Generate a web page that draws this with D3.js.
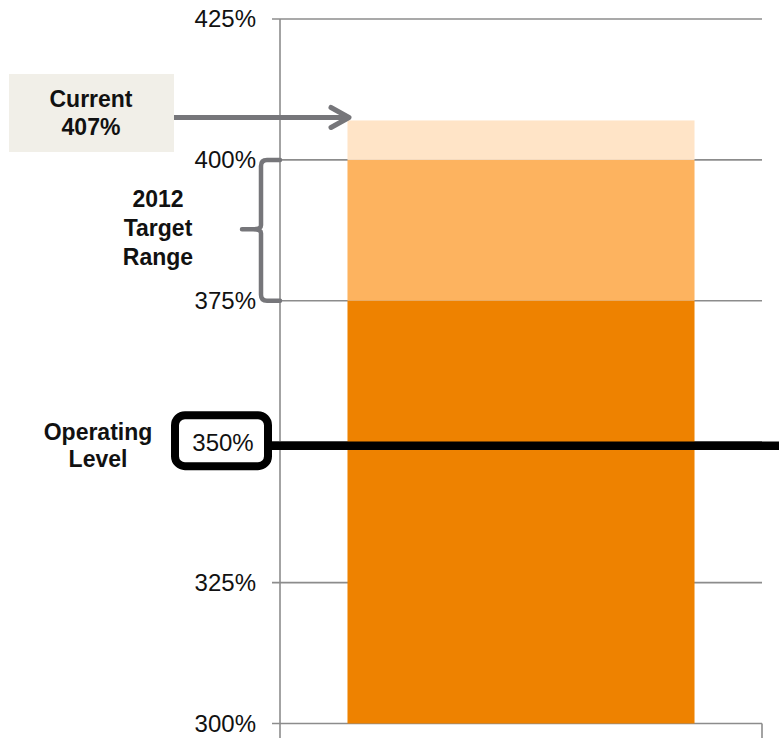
<!DOCTYPE html>
<html>
<head>
<meta charset="utf-8">
<script src="https://cdn.jsdelivr.net/npm/d3@7"></script>
<style>
  html, body { margin: 0; padding: 0; background: #fff; }
  svg { display: block; font-family: "Liberation Sans", Arial, sans-serif; }
</style>
</head>
<body>
<svg id="chart" width="779" height="738"></svg>
<script>
// Capital ratio stack: base, 2012 target range, current surplus
const categories = ["Capital"];
const segmentStarts = [300, 375, 400];
const segmentEnds = [375, 400, 407];
const segmentColors = ["#EE8200", "#FDB35F", "#FFE4C7"];
const tickValues = [300, 325, 350, 375, 400, 425];
const currentValue = 407;
const targetRange = [375, 400];
const operatingLevel = 350;

const svg = d3.select("#chart");
const plot = { left: 280, right: 762, top: 19, bottom: 723.5 };

const y = d3.scaleLinear().domain([300, 425]).range([plot.bottom, plot.top]);
const x = d3.scaleBand().domain(categories).range([plot.left, plot.right]).paddingInner(0.28).paddingOuter(0.14);

// Gridlines
svg.append("g").selectAll("line").data(tickValues).join("line")
  .attr("x1", plot.left - 8).attr("x2", plot.right)
  .attr("y1", d => y(d)).attr("y2", d => y(d))
  .attr("stroke", "#8c8c8c").attr("stroke-width", 1.6);

// Y axis labels; the operating level value is shown in its own box instead
const yAxis = d3.axisLeft(y)
  .tickValues(tickValues.filter(v => v !== operatingLevel))
  .tickFormat(d => d + "%").tickSize(0).tickPadding(24);
const ag = svg.append("g").attr("transform", `translate(${plot.left},0)`).call(yAxis);
ag.select(".domain").remove();
ag.selectAll("text").attr("font-size", 24).attr("fill", "#111").attr("font-family", "Liberation Sans, Arial, sans-serif");

// Axis line and right-end tick
svg.append("line").attr("x1", plot.left).attr("x2", plot.left)
  .attr("y1", plot.top).attr("y2", 738).attr("stroke", "#8c8c8c").attr("stroke-width", 1.6);
svg.append("line").attr("x1", plot.right).attr("x2", plot.right)
  .attr("y1", plot.bottom).attr("y2", 738).attr("stroke", "#8c8c8c").attr("stroke-width", 1.6);

// Stacked bar segments
const segs = segmentStarts.map((s, i) => ({ start: s, end: segmentEnds[i], color: segmentColors[i] }));
svg.append("g").selectAll("rect").data(segs).join("rect")
  .attr("x", x(categories[0])).attr("width", x.bandwidth())
  .attr("y", d => y(d.end)).attr("height", d => y(d.start) - y(d.end))
  .attr("fill", d => d.color);

// Operating level line and labelled box
const opY = y(operatingLevel) + 4;
svg.append("line").attr("x1", 268).attr("x2", 779)
  .attr("y1", opY).attr("y2", opY)
  .attr("stroke", "#000").attr("stroke-width", 8.5);
svg.append("rect").attr("x", 175).attr("y", opY - 30.5).attr("width", 93).attr("height", 51)
  .attr("rx", 10).attr("ry", 10)
  .attr("fill", "#fff").attr("stroke", "#000").attr("stroke-width", 8);
svg.append("text").attr("x", 223).attr("y", opY + 5).attr("text-anchor", "middle")
  .attr("font-size", 24).attr("fill", "#111").text(operatingLevel + "%");
const opText = svg.append("text").attr("text-anchor", "middle").attr("font-size", 23)
  .attr("font-weight", "bold").attr("fill", "#111");
opText.append("tspan").attr("x", 98).attr("y", 439.5).text("Operating");
opText.append("tspan").attr("x", 98).attr("y", 467).text("Level");

// Current value callout
svg.append("rect").attr("x", 9).attr("y", 74).attr("width", 165).attr("height", 78).attr("fill", "#F1EFE8");
const curText = svg.append("text").attr("text-anchor", "middle").attr("font-size", 23)
  .attr("font-weight", "bold").attr("fill", "#111");
curText.append("tspan").attr("x", 91).attr("y", 107).text("Current");
curText.append("tspan").attr("x", 91).attr("y", 135).text(currentValue + "%");

const arrowY = y(currentValue) - 3;
svg.append("line").attr("x1", 174).attr("x2", 348).attr("y1", arrowY).attr("y2", arrowY)
  .attr("stroke", "#76767a").attr("stroke-width", 5);
svg.append("path")
  .attr("d", `M${331},${arrowY - 10} L${349},${arrowY} L${331},${arrowY + 10}`)
  .attr("fill", "none").attr("stroke", "#76767a").attr("stroke-width", 5)
  .attr("stroke-linecap", "round").attr("stroke-linejoin", "round");

// Target range brace
const yT = y(targetRange[1]), yB = y(targetRange[0]), yM = (yT + yB) / 2 - 1;
const bx = 261;
svg.append("path")
  .attr("d", `M${plot.left},${yT} L${bx + 6},${yT} Q${bx},${yT} ${bx},${yT + 6} L${bx},${yM - 4} Q${bx},${yM} ${bx - 8},${yM}` +
             ` L${242},${yM} M${bx - 8},${yM} Q${bx},${yM} ${bx},${yM + 4} L${bx},${yB - 6} Q${bx},${yB} ${bx + 6},${yB} L${plot.left},${yB}`)
  .attr("fill", "none").attr("stroke", "#76767a").attr("stroke-width", 4.5).attr("stroke-linecap", "round");
const trText = svg.append("text").attr("text-anchor", "middle").attr("font-size", 23)
  .attr("font-weight", "bold").attr("fill", "#111");
trText.append("tspan").attr("x", 158).attr("y", 207).text("2012");
trText.append("tspan").attr("x", 158).attr("y", 236).text("Target");
trText.append("tspan").attr("x", 158).attr("y", 265).text("Range");
</script>
</body>
</html>
